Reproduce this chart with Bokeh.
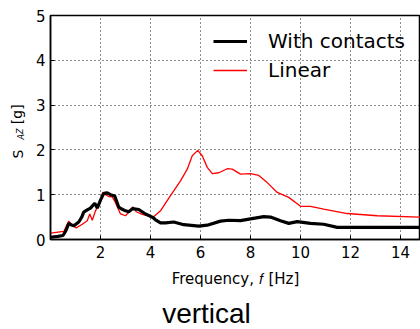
from bokeh.plotting import figure
from bokeh.models import Legend, LegendItem, Label, FixedTicker, Range1d
from bokeh.embed import file_html
from bokeh.resources import INLINE

# Frequency [Hz] and response S_AZ [g]
f_contacts = [0.0, 0.3, 0.5, 0.62, 0.73, 0.85, 0.95, 1.13, 1.25, 1.33, 1.47, 1.6, 1.77, 1.87,
              2.0, 2.13, 2.27, 2.4, 2.57, 2.73, 2.85, 3.0, 3.13, 3.29, 3.53, 3.8, 4.07, 4.2,
              4.4, 4.6, 4.93, 5.33, 5.93, 6.27, 6.8, 7.13, 7.6, 8.0, 8.53, 8.8, 9.2, 9.53,
              9.87, 10.4, 10.93, 11.47, 12.0, 13.0, 14.0, 14.8]
s_contacts = [0.05, 0.07, 0.09, 0.2, 0.36, 0.32, 0.31, 0.39, 0.5, 0.61, 0.66, 0.7, 0.81, 0.7,
              0.88, 1.03, 1.04, 1.0, 0.97, 0.72, 0.68, 0.64, 0.62, 0.69, 0.67, 0.57, 0.5, 0.44,
              0.37, 0.37, 0.39, 0.33, 0.3, 0.32, 0.41, 0.43, 0.42, 0.46, 0.51, 0.5, 0.42, 0.36,
              0.4, 0.36, 0.34, 0.27, 0.27, 0.27, 0.27, 0.27]

f_linear = [0.0, 0.53, 0.73, 0.87, 1.03, 1.27, 1.47, 1.57, 1.67, 1.8, 1.93, 2.09, 2.2, 2.33,
            2.47, 2.6, 2.8, 3.0, 3.2, 3.29, 3.43, 3.67, 3.93, 4.07, 4.4, 4.8, 5.2, 5.47, 5.67,
            5.89, 6.07, 6.27, 6.47, 6.73, 7.07, 7.27, 7.6, 8.0, 8.33, 8.67, 9.07, 9.53, 10.0,
            10.4, 10.93, 11.87, 13.07, 14.8]
s_linear = [0.14, 0.18, 0.41, 0.31, 0.26, 0.34, 0.42, 0.57, 0.43, 0.64, 0.78, 1.05, 1.0, 0.96,
            0.95, 0.82, 0.57, 0.53, 0.65, 0.73, 0.62, 0.56, 0.53, 0.48, 0.64, 0.98, 1.31, 1.57, 1.87,
            1.99, 1.87, 1.61, 1.47, 1.49, 1.58, 1.57, 1.46, 1.47, 1.43, 1.27, 1.05, 0.94, 0.74,
            0.74, 0.68, 0.58, 0.53, 0.5]

x_ticks = [2, 4, 6, 8, 10, 12, 14]
y_ticks = [0, 1, 2, 3, 4, 5]

p = figure(width=420, height=329, output_backend="svg", toolbar_location=None, title=None,
           x_range=Range1d(0, 14.8), y_range=Range1d(0, 5),
           min_border_left=50, min_border_right=0, min_border_top=15, min_border_bottom=90)
p.background_fill_color = "white"
p.border_fill_color = "white"
p.outline_line_color = "black"
p.outline_line_width = 1.5

tick_font = "DejaVu Sans"
for ax in (p.xaxis[0], p.yaxis[0]):
    ax.major_label_text_font = tick_font
    ax.major_label_text_font_size = "15px"
    ax.major_label_text_color = "black"
    ax.axis_line_color = "black"
    ax.axis_line_width = 1.5
    ax.major_tick_in = 4
    ax.major_tick_out = 0
    ax.major_tick_line_color = "black"
    ax.minor_tick_line_color = None
p.xaxis.ticker = FixedTicker(ticks=x_ticks)
p.yaxis.ticker = FixedTicker(ticks=y_ticks)
p.xaxis.major_label_standoff = 6
p.yaxis.major_label_standoff = 5
p.xaxis.axis_label = "Frequency, \U0001D453 [Hz]"
p.xaxis.axis_label_text_font = tick_font
p.xaxis.axis_label_text_font_size = "15px"
p.xaxis.axis_label_text_font_style = "normal"
p.xaxis.axis_label_text_color = "black"
p.xaxis.axis_label_standoff = 9

for g in (p.xgrid[0], p.ygrid[0]):
    g.grid_line_color = "black"
    g.grid_line_dash = "1 3"
    g.grid_line_width = 1
    g.grid_line_alpha = 0.9
p.xgrid.ticker = FixedTicker(ticks=x_ticks)
p.ygrid.ticker = FixedTicker(ticks=y_ticks)

r_lin = p.line(f_linear, s_linear, line_color="red", line_width=1.3)
r_con = p.line(f_contacts, s_contacts, line_color="black", line_width=3.2)

legend = Legend(items=[LegendItem(label="With contacts", renderers=[r_con]),
                       LegendItem(label="Linear", renderers=[r_lin])],
                location=(163, 157), padding=0, margin=0, spacing=5,
                glyph_width=34, glyph_height=24, label_height=24, label_standoff=21,
                label_text_font=tick_font, label_text_font_size="20px",
                label_text_color="black",
                border_line_color=None, background_fill_alpha=0)
p.add_layout(legend, "center")

# y axis label: S_AZ [g], rotated, in the left side panels
p.add_layout(Label(x=-2.5, y=100, x_units="screen", y_units="screen", text="AZ", angle=1.5708,
                   text_font=tick_font, text_font_style="italic", text_font_size="8px",
                   text_align="left", text_baseline="alphabetic", text_color="black"), "left")
p.add_layout(Label(x=10, y=81, x_units="screen", y_units="screen",
                   text="S\u2003\u2002 [g]", angle=1.5708,
                   text_font=tick_font, text_font_size="14px",
                   text_align="left", text_baseline="alphabetic", text_color="black"), "left")

# caption below the x axis
p.add_layout(Label(x=156, y=8, x_units="screen", y_units="screen", text="vertical",
                   text_font="Liberation Sans", text_font_size="28px", text_align="center",
                   text_baseline="alphabetic", text_color="black"), "below")

open("out.html", "w").write(file_html(p, INLINE))
